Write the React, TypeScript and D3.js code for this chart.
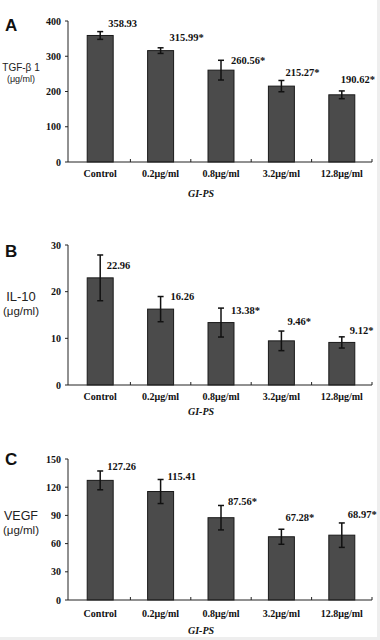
import React from "react";
import * as d3 from "d3";

const categories = ["Control", "0.2μg/ml", "0.8μg/ml", "3.2μg/ml", "12.8μg/ml"];

const tgfMeans = [358.93, 315.99, 260.56, 215.27, 190.62];
const tgfErrs = [11, 8, 28, 16, 11];
const tgfLabels = ["358.93", "315.99*", "260.56*", "215.27*", "190.62*"];
const tgfTicks = [0, 100, 200, 300, 400];

const il10Means = [22.96, 16.26, 13.38, 9.46, 9.12];
const il10Errs = [4.9, 2.7, 3.1, 2.1, 1.2];
const il10Labels = ["22.96", "16.26", "13.38*", "9.46*", "9.12*"];
const il10Ticks = [0, 10, 20, 30];

const vegfMeans = [127.26, 115.41, 87.56, 67.28, 68.97];
const vegfErrs = [10, 12.8, 13, 8, 13];
const vegfLabels = ["127.26", "115.41", "87.56*", "67.28*", "68.97*"];
const vegfTicks = [0, 30, 60, 90, 120, 150];

const xTitle = "GI-PS";

// label placement tweaks (style): [dx from bar centre, dy from bar top]
const tgfLabelOff = [[8, -8.5], [9, -9.6], [10, -5.7], [4, -10.1], [-1, -12.3]];
const il10LabelOff = [[6.5, -8.8], [10, -9.6], [10, -9], [6, -15.4], [8, -8.9]];
const vegfLabelOff = [[7, -10.6], [7, -11.2], [7, -12.4], [4, -15.4], [6, -16.8]];

const SERIF = "'Liberation Serif', 'Times New Roman', serif";
const SANS = "'Liberation Sans', Arial, sans-serif";
const TITLE_FONT = "'Liberation Sans', Arial, sans-serif";

type PanelProps = {
  letter: string;
  letterY: number;
  means: number[];
  errs: number[];
  labels: string[];
  labelOff: number[][];
  ticks: number[];
  top: number;
  zero: number;
  titleLines: string[];
  titleY: number[];
  titleSizes: number[];
  catY: number;
  xTitleY: number;
};

function Panel(p: PanelProps) {
  const axisX = 68;
  const x = d3
    .scaleBand<string>()
    .domain(categories)
    .range([70, 372])
    .paddingInner(0.57)
    .paddingOuter(0.285);
  const yMax = p.ticks[p.ticks.length - 1];
  const y = d3.scaleLinear().domain([0, yMax]).range([p.zero, p.top]);
  const step = x.step();
  const start = x.range()[0];
  const bw = x.bandwidth();
  return (
    <g>
      <text x={5} y={p.letterY} fontFamily={SANS} fontWeight="bold" fontSize={17} fill="#111">
        {p.letter}
      </text>
      {p.titleLines.map((t, i) => (
        <text
          key={i}
          x={21}
          y={p.titleY[i]}
          textAnchor="middle"
          fontFamily={TITLE_FONT}
          fontSize={p.titleSizes[i]}
          fill="#222"
        >
          {t}
        </text>
      ))}
      {/* y axis */}
      <line x1={axisX} x2={axisX} y1={y(yMax)} y2={y(0)} stroke="#222" strokeWidth={1} />
      {p.ticks.map((t) => (
        <g key={t}>
          <line x1={axisX - 3} x2={axisX} y1={y(t)} y2={y(t)} stroke="#222" strokeWidth={1} />
          <text
            x={axisX - 7}
            y={y(t) + 3.5}
            textAnchor="end"
            fontFamily={SERIF}
            fontWeight="bold"
            fontSize={10}
            fill="#111"
          >
            {t}
          </text>
        </g>
      ))}
      {/* bars */}
      {categories.map((c, i) => (
        <rect
          key={c}
          x={x(c)!}
          y={y(p.means[i])}
          width={bw}
          height={y(0) - y(p.means[i])}
          fill="#4b4b4b"
          stroke="#1a1a1a"
          strokeWidth={1}
        />
      ))}
      {/* x axis */}
      <line x1={axisX} x2={start + step * categories.length} y1={y(0)} y2={y(0)} stroke="#222" strokeWidth={1} />
      {categories.map((c, i) => (
        <line
          key={"t" + i}
          x1={start + step * (i + 1)}
          x2={start + step * (i + 1)}
          y1={y(0)}
          y2={y(0) - 3}
          stroke="#222"
          strokeWidth={1}
        />
      ))}
      {/* error bars */}
      {categories.map((c, i) => {
        const cx = x(c)! + bw / 2;
        const hi = y(p.means[i] + p.errs[i]);
        const lo = y(p.means[i] - p.errs[i]);
        return (
          <g key={"e" + i} stroke="#111" strokeWidth={1.5}>
            <line x1={cx} x2={cx} y1={hi} y2={lo} />
            <line x1={cx - 3} x2={cx + 3} y1={hi} y2={hi} />
            <line x1={cx - 3} x2={cx + 3} y1={lo} y2={lo} />
          </g>
        );
      })}
      {/* value labels */}
      {categories.map((c, i) => (
        <text
          key={"l" + i}
          x={x(c)! + bw / 2 + p.labelOff[i][0]}
          y={y(p.means[i]) + p.labelOff[i][1]}
          fontFamily={SERIF}
          fontWeight="bold"
          fontSize={10.5}
          fill="#111"
        >
          {p.labels[i]}
        </text>
      ))}
      {/* category labels */}
      {categories.map((c) => (
        <text
          key={"c" + c}
          x={x(c)! + bw / 2}
          y={p.catY}
          textAnchor="middle"
          fontFamily={SERIF}
          fontWeight="bold"
          fontSize={10}
          fill="#111"
        >
          {c}
        </text>
      ))}
      <text
        x={201}
        y={p.xTitleY}
        textAnchor="middle"
        fontFamily={SERIF}
        fontWeight="bold"
        fontStyle="italic"
        fontSize={10}
        fill="#111"
      >
        {xTitle}
      </text>
    </g>
  );
}

export default function App() {
  return (
    <svg
      width={380}
      height={640}
      style={{ position: "absolute", left: 0, top: 0, background: "#fff" }}
    >
      <rect x={0} y={0} width={380} height={640} fill="#fff" />
      <rect x={377} y={0} width={3} height={640} fill="#eeeeee" />
      <rect x={0} y={637} width={380} height={3} fill="#eeeeee" />
      <Panel
        letter="A"
        letterY={31}
        means={tgfMeans}
        errs={tgfErrs}
        labels={tgfLabels}
        labelOff={tgfLabelOff}
        ticks={tgfTicks}
        top={21}
        zero={162}
        titleLines={["TGF-β 1", "(μg/ml)"]}
        titleY={[71, 82]}
        titleSizes={[10, 9]}
        catY={177}
        xTitleY={197}
      />
      <Panel
        letter="B"
        letterY={257}
        means={il10Means}
        errs={il10Errs}
        labels={il10Labels}
        labelOff={il10LabelOff}
        ticks={il10Ticks}
        top={245}
        zero={385}
        titleLines={["IL-10", "(μg/ml)"]}
        titleY={[301, 315]}
        titleSizes={[13, 11.5]}
        catY={400}
        xTitleY={415}
      />
      <Panel
        letter="C"
        letterY={465}
        means={vegfMeans}
        errs={vegfErrs}
        labels={vegfLabels}
        labelOff={vegfLabelOff}
        ticks={vegfTicks}
        top={459}
        zero={600}
        titleLines={["VEGF", "(μg/ml)"]}
        titleY={[519.5, 533.5]}
        titleSizes={[12.5, 11.5]}
        catY={617}
        xTitleY={634}
      />
    </svg>
  );
}
